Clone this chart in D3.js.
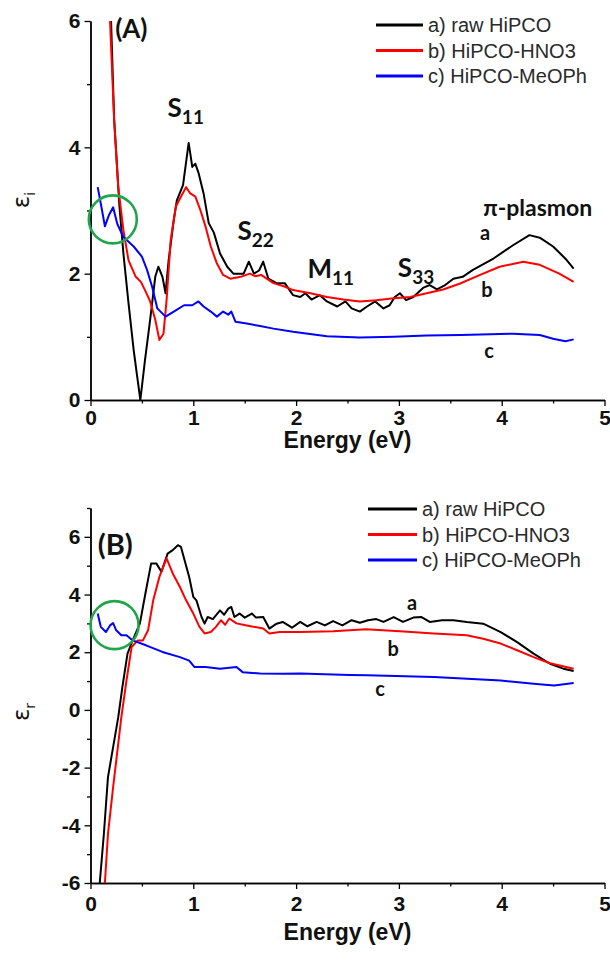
<!DOCTYPE html>
<html><head><meta charset="utf-8">
<script src="https://cdn.jsdelivr.net/npm/d3@7"></script>
<style>body{margin:0;background:#fff}</style>
</head><body>
<svg id="c" width="610" height="967"></svg>
<script>
// ---------- data ----------
const seriesNames = ["a) raw HiPCO", "b) HiPCO-HNO3", "c) HiPCO-MeOPh"];
const seriesLetters = ["a", "b", "c"];
const xMajorTicks = [0, 1, 2, 3, 4, 5];
const xMinorTicks = [0.5, 1.5, 2.5, 3.5, 4.5];
const yTopMajor = [0, 2, 4, 6];
const yTopMinor = [1, 3, 5];
const yBotMajor = [-6, -4, -2, 0, 2, 4, 6];
const yBotMinor = [-5, -3, -1, 1, 3, 5, 7];

// Panel A: imaginary part eps_i  [energy eV, value]
const epsI_a = [[0.20,6.0],[0.23,4.45],[0.28,3.1],[0.32,2.32],[0.37,1.53],[0.42,0.79],[0.45,0.42],[0.485,0.0],[0.53,0.63],[0.58,1.27],[0.63,1.95],[0.66,2.11],[0.70,1.95],[0.73,1.69],[0.76,2.21],[0.81,2.85],[0.84,3.16],[0.90,3.40],[0.955,4.07],[0.99,3.69],[1.02,3.74],[1.05,3.60],[1.10,3.27],[1.15,2.80],[1.20,2.65],[1.26,2.32],[1.33,2.11],[1.39,2.0],[1.49,2.0],[1.54,2.19],[1.59,2.0],[1.64,2.05],[1.68,2.19],[1.73,1.92],[1.81,1.85],[1.89,1.85],[1.97,1.66],[2.04,1.63],[2.09,1.69],[2.15,1.59],[2.23,1.66],[2.30,1.56],[2.40,1.48],[2.48,1.56],[2.54,1.45],[2.62,1.40],[2.69,1.48],[2.77,1.56],[2.85,1.45],[2.91,1.5],[2.96,1.63],[3.01,1.69],[3.07,1.58],[3.14,1.63],[3.24,1.78],[3.30,1.82],[3.37,1.75],[3.45,1.82],[3.53,1.92],[3.62,1.95],[3.72,2.06],[3.92,2.24],[4.11,2.45],[4.27,2.61],[4.37,2.57],[4.50,2.43],[4.63,2.22],[4.70,2.08]];
const epsI_b = [[0.19,6.0],[0.23,4.43],[0.27,3.37],[0.32,2.69],[0.37,2.21],[0.44,1.95],[0.49,1.87],[0.53,1.74],[0.58,1.56],[0.63,1.27],[0.67,0.95],[0.71,1.05],[0.74,1.58],[0.78,2.53],[0.83,3.06],[0.87,3.19],[0.93,3.37],[0.97,3.27],[1.02,3.22],[1.07,3.0],[1.12,2.74],[1.17,2.43],[1.23,2.16],[1.29,1.98],[1.36,1.92],[1.46,1.95],[1.55,2.0],[1.60,1.96],[1.66,1.98],[1.78,1.85],[1.88,1.80],[1.97,1.74],[2.14,1.69],[2.30,1.63],[2.46,1.59],[2.62,1.56],[2.78,1.58],[2.95,1.61],[3.11,1.63],[3.27,1.69],[3.43,1.75],[3.59,1.84],[3.79,1.98],[3.98,2.11],[4.21,2.19],[4.37,2.14],[4.56,2.0],[4.70,1.87]];
const epsI_c = [[0.07,3.37],[0.10,3.11],[0.14,2.75],[0.18,2.93],[0.22,3.05],[0.26,2.79],[0.32,2.58],[0.42,2.43],[0.50,2.27],[0.55,2.06],[0.60,1.79],[0.65,1.45],[0.73,1.32],[0.81,1.40],[0.91,1.50],[0.99,1.50],[1.05,1.56],[1.10,1.48],[1.17,1.40],[1.23,1.32],[1.29,1.40],[1.34,1.35],[1.37,1.40],[1.41,1.24],[1.52,1.21],[1.65,1.17],[1.78,1.13],[1.97,1.08],[2.30,1.01],[2.62,0.99],[2.95,1.0],[3.27,1.02],[3.60,1.03],[4.11,1.05],[4.37,1.03],[4.50,0.97],[4.62,0.93],[4.70,0.96]];

// Panel B: real part eps_r
const epsR_a = [[0.09,-6.0],[0.13,-4.3],[0.17,-2.33],[0.22,-1.29],[0.27,-0.25],[0.31,0.79],[0.36,1.95],[0.41,2.41],[0.48,2.99],[0.54,4.15],[0.59,5.08],[0.64,5.08],[0.69,4.79],[0.75,5.42],[0.80,5.54],[0.85,5.71],[0.88,5.65],[0.92,5.13],[0.96,4.61],[1.0,3.92],[1.03,3.80],[1.08,3.22],[1.11,2.99],[1.14,3.22],[1.19,3.15],[1.26,3.45],[1.30,3.3],[1.34,3.51],[1.37,3.57],[1.40,3.22],[1.45,3.34],[1.50,3.2],[1.57,3.34],[1.61,3.2],[1.68,3.22],[1.74,2.82],[1.81,2.99],[1.87,3.05],[1.96,2.85],[2.04,3.05],[2.11,2.9],[2.20,3.05],[2.28,2.93],[2.36,3.08],[2.45,2.93],[2.54,3.11],[2.62,3.02],[2.70,3.11],[2.78,3.15],[2.85,3.05],[2.95,3.22],[3.04,3.05],[3.14,3.20],[3.22,3.22],[3.30,3.05],[3.42,3.11],[3.53,3.11],[3.66,3.05],[3.82,2.99],[3.99,2.70],[4.15,2.35],[4.31,1.95],[4.47,1.60],[4.60,1.43],[4.70,1.35]];
const epsR_b = [[0.14,-6.0],[0.17,-4.3],[0.22,-2.68],[0.27,-1.17],[0.30,-0.25],[0.35,1.02],[0.40,2.18],[0.46,2.41],[0.51,2.41],[0.56,2.76],[0.61,3.80],[0.67,4.61],[0.74,5.25],[0.80,4.73],[0.87,4.26],[0.93,3.80],[1.0,3.34],[1.06,2.88],[1.11,2.65],[1.17,2.70],[1.22,2.88],[1.27,3.11],[1.31,2.95],[1.35,3.17],[1.42,3.0],[1.52,2.93],[1.68,2.82],[1.74,2.65],[1.84,2.70],[2.04,2.70],[2.36,2.73],[2.68,2.80],[3.01,2.73],[3.34,2.65],[3.66,2.59],[3.82,2.47],[3.99,2.30],[4.15,2.07],[4.31,1.83],[4.47,1.62],[4.70,1.43]];
const epsR_c = [[0.07,3.34],[0.10,2.88],[0.15,2.70],[0.19,2.93],[0.22,3.01],[0.25,2.76],[0.30,2.59],[0.35,2.59],[0.41,2.41],[0.54,2.24],[0.70,2.01],[0.87,1.83],[0.96,1.71],[1.01,1.49],[1.12,1.49],[1.26,1.43],[1.42,1.49],[1.48,1.31],[1.65,1.26],[1.87,1.25],[2.04,1.26],[2.52,1.21],[2.69,1.20],[3.34,1.14],[3.99,1.02],[4.31,0.91],[4.51,0.85],[4.70,0.93]];

// circled regions [E, value]
const circleTop = [0.217, 2.86];
const circleBot = [0.234, 2.94];

// peak labels panel A: [text, sub, E, value]
const peakLabels = [["S","11",0.75,4.48],["S","22",1.43,2.53],["M","11",2.11,1.93],["S","33",2.99,1.95]];
const letterPosTop = [[3.79,2.53],[3.80,1.63],[3.83,0.66]];
const letterPosBot = [[3.08,3.45],[2.89,1.86],[2.77,0.47]];

// ---------- drawing ----------
const colors = ["#000000", "#ff0000", "#0000ff"];
const svg = d3.select("#c");
const x = d3.scaleLinear().domain([0, 5]).range([90.5, 604.5]);
const yTop = d3.scaleLinear().domain([0, 6]).range([400, 21]);
const yBot = d3.scaleLinear().domain([-6, 7]).range([883, 508]);
const tickFont = "'Liberation Sans', Arial, sans-serif";
const annFont = "Lato, 'Open Sans', sans-serif";

function panel(y, yMaj, yMin, series, axisY, labelOff, titleOff, ylab, ylabY, legendX, legendY0, legendTextX, panelLabel, panelPos, panelSize, letterPos, circle) {
  const g = svg.append("g");
  const fmt = d => String(d);
  const xa = g.append("g").attr("transform", `translate(0,${axisY})`)
    .call(d3.axisBottom(x).tickValues(xMajorTicks).tickSize(6).tickSizeOuter(0).tickFormat(fmt));
  const xm = g.append("g").attr("transform", `translate(0,${axisY})`)
    .call(d3.axisBottom(x).tickValues(xMinorTicks).tickSize(3.5).tickSizeOuter(0).tickFormat(""));
  const ya = g.append("g").attr("transform", `translate(${x(0)},0)`)
    .call(d3.axisLeft(y).tickValues(yMaj).tickSize(6).tickSizeOuter(0).tickFormat(fmt));
  const ym = g.append("g").attr("transform", `translate(${x(0)},0)`)
    .call(d3.axisLeft(y).tickValues(yMin).tickSize(3.5).tickSizeOuter(0).tickFormat(""));
  [xa, xm, ya, ym].forEach(a => {
    a.select(".domain").attr("stroke", "#000").attr("stroke-width", 1.4);
    a.selectAll(".tick line").attr("stroke", "#000").attr("stroke-width", 1.3);
    a.selectAll("text").attr("font-family", tickFont).attr("font-weight", "bold").attr("font-size", 21).attr("fill", "#111");
  });
  xa.selectAll("text").attr("dy", "0.8em").attr("y", labelOff);
  ya.selectAll("text").attr("x", -10);
  // axis title
  g.append("text").attr("x", (x(0) + x(5)) / 2).attr("y", axisY + titleOff)
    .attr("text-anchor", "middle").attr("font-family", tickFont).attr("font-weight", "bold")
    .attr("font-size", 23).attr("fill", "#111").text("Energy (eV)");
  // y label
  const yl = g.append("text").attr("transform", `translate(29,${ylabY}) rotate(-90)`)
    .attr("text-anchor", "middle").attr("font-family", "'DejaVu Sans', sans-serif").attr("font-size", 23).attr("fill", "#111");
  yl.append("tspan").text("ε");
  yl.append("tspan").attr("font-size", 14).attr("dy", 6).text(ylab);

  // lines
  const line = d3.line().x(d => x(d[0])).y(d => y(d[1]));
  series.forEach((s, i) => {
    g.append("path").datum(s).attr("d", line).attr("fill", "none")
      .attr("stroke", colors[i]).attr("stroke-width", 2).attr("stroke-linejoin", "round");
  });
  // circle
  g.append("circle").attr("cx", x(circle[0])).attr("cy", y(circle[1])).attr("r", 24)
    .attr("fill", "none").attr("stroke", "#1fa64a").attr("stroke-width", 2.6);

  // legend
  seriesNames.forEach((n, i) => {
    const yy = legendY0 + i * 25.5;
    g.append("line").attr("x1", legendX[0]).attr("x2", legendX[1]).attr("y1", yy).attr("y2", yy)
      .attr("stroke", colors[i]).attr("stroke-width", 3.2);
    g.append("text").attr("x", legendTextX).attr("y", yy).attr("dy", "0.36em")
      .attr("font-family", tickFont).attr("font-size", 20).attr("fill", "#2a2a2a").text(n);
  });
  // panel label
  g.append("text").attr("x", x(panelPos[0])).attr("y", y(panelPos[1]))
    .attr("font-family", annFont).attr("font-weight", "bold").attr("font-size", panelSize).attr("fill", "#111").text(panelLabel);
  // series letters
  letterPos.forEach((p, i) => {
    g.append("text").attr("x", x(p[0])).attr("y", y(p[1]))
      .attr("font-family", annFont).attr("font-weight", "bold").attr("font-size", 20).attr("fill", "#111").text(seriesLetters[i]);
  });
  return g;
}

const gA = panel(yTop, yTopMajor, yTopMinor, [epsI_a, epsI_b, epsI_c], 400, 8, 48, "i", 200,
  [376, 423], 25, 428, "(A)", [0.24, 5.73], 26, letterPosTop, circleTop);
const gB = panel(yBot, yBotMajor, yBotMinor, [epsR_a, epsR_b, epsR_c], 883, 11, 57, "r", 712,
  [368, 417], 509, 422, "(B)", [0.07, 5.36], 29, letterPosBot, circleBot);

// peak labels on panel A
peakLabels.forEach(p => {
  const t = gA.append("text").attr("x", x(p[2])).attr("y", yTop(p[3]))
    .attr("font-family", annFont).attr("font-weight", "bold").attr("font-size", 26).attr("fill", "#111");
  t.append("tspan").text(p[0]);
  t.append("tspan").attr("font-size", 19).attr("dy", 7).text(p[1]);
});
gA.append("text").attr("x", x(3.82)).attr("y", yTop(2.91))
  .attr("font-family", annFont).attr("font-weight", "bold").attr("font-size", 23).attr("fill", "#111").text("π-plasmon");
</script>
</body></html>
